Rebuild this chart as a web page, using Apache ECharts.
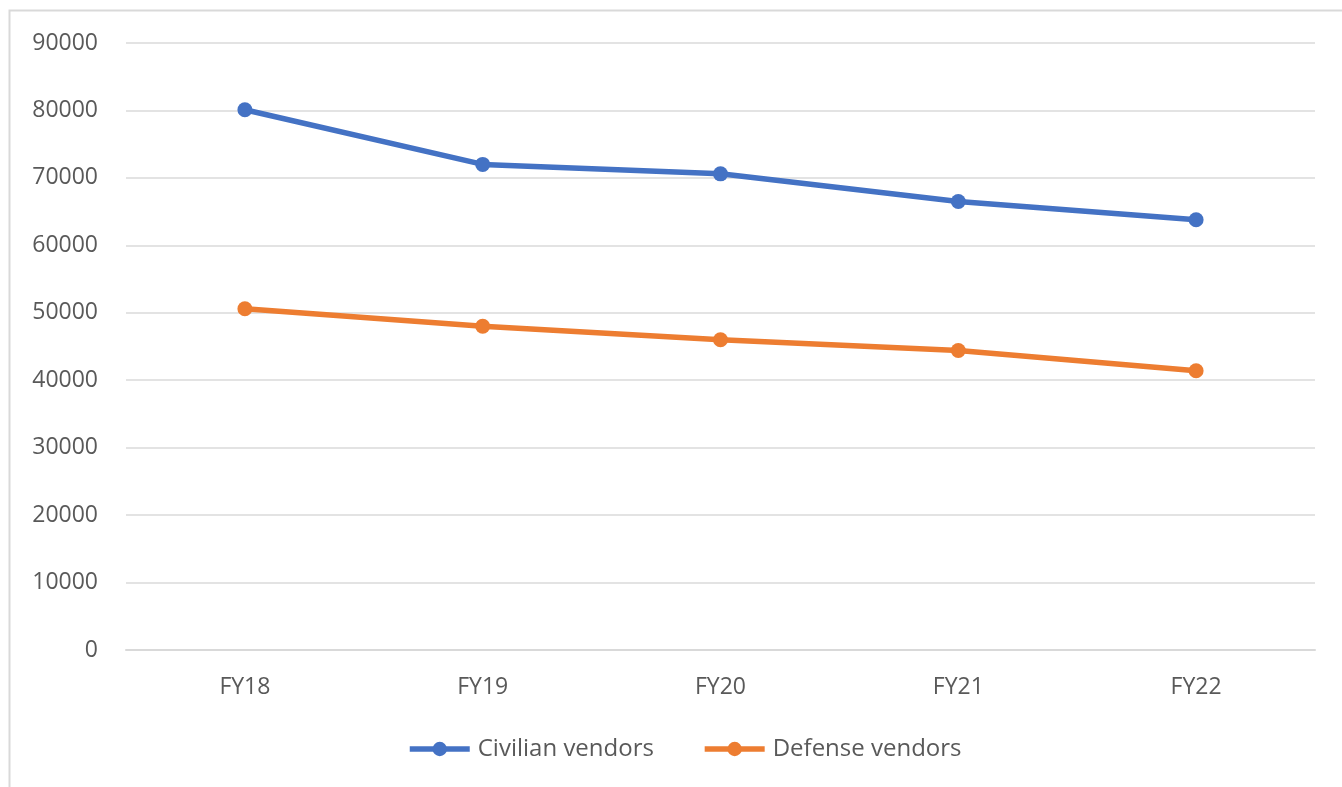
<!DOCTYPE html>
<html>
<head>
<meta charset="utf-8">
<title>Civilian and defense vendors, FY18–FY22</title>
<script src="https://cdn.jsdelivr.net/npm/echarts@6/dist/echarts.min.js"></script>
<style>
  html, body { margin: 0; padding: 0; background: #ffffff; }
  #chart { width: 1342px; height: 787px; }
</style>
</head>
<body>
<div id="chart"></div>
<script>
// Fiscal years on the category axis
const years = ['FY18', 'FY19', 'FY20', 'FY21', 'FY22'];

// Number of vendors per fiscal year
const civilianVendors = [80100, 72000, 70600, 66500, 63800];
const defenseVendors = [50600, 48000, 46000, 44400, 41400];

// Value axis range
const yMin = 0;
const yMax = 90000;
const yStep = 10000;

const textColor = '#595959';
const fontFamily = '"Open Sans", "Liberation Sans", sans-serif';

const chart = echarts.init(document.getElementById('chart'), null, { renderer: 'canvas' });

chart.setOption({
  animation: false,
  backgroundColor: '#ffffff',
  textStyle: { fontFamily: fontFamily, color: textColor },
  graphic: [
    {
      // frame along the top and left edges
      type: 'rect',
      left: 7,
      top: 8,
      shape: { width: 2000, height: 2000 },
      style: { fill: 'none', stroke: '#d9d9d9', lineWidth: 2 },
      silent: true
    }
  ],
  grid: {
    left: 126,
    right: 27,
    top: 43,
    bottom: 137,
    containLabel: false
  },
  legend: {
    bottom: 21,
    left: 402,
    itemWidth: 60,
    itemHeight: 18,
    itemGap: 48,
    lineStyle: { width: 5.5 },
    textStyle: { fontSize: 24, color: textColor, fontFamily: fontFamily, padding: [0, 0, 0, 3] },
    data: ['Civilian vendors', 'Defense vendors']
  },
  xAxis: {
    type: 'category',
    data: years,
    boundaryGap: true,
    axisLine: { show: true, lineStyle: { color: '#d9d9d9', width: 2 } },
    axisTick: { show: false },
    axisLabel: { fontSize: 23, color: textColor, margin: 26, fontFamily: fontFamily },
    splitLine: { show: false }
  },
  yAxis: {
    type: 'value',
    min: yMin,
    max: yMax,
    interval: yStep,
    axisLine: { show: false },
    axisTick: { show: false },
    axisLabel: {
      fontSize: 23,
      color: textColor,
      margin: 28,
      fontFamily: fontFamily,
      formatter: function (v) { return String(v); }
    },
    splitLine: { show: true, lineStyle: { color: '#e3e3e3', width: 2 } }
  },
  series: [
    {
      name: 'Civilian vendors',
      type: 'line',
      data: civilianVendors,
      color: '#4472C4',
      symbol: 'circle',
      symbolSize: 15,
      lineStyle: { width: 5.5, color: '#4472C4' },
      itemStyle: { color: '#4472C4' }
    },
    {
      name: 'Defense vendors',
      type: 'line',
      data: defenseVendors,
      color: '#ED7D31',
      symbol: 'circle',
      symbolSize: 15,
      lineStyle: { width: 5.5, color: '#ED7D31' },
      itemStyle: { color: '#ED7D31' }
    }
  ]
});
</script>
</body>
</html>
